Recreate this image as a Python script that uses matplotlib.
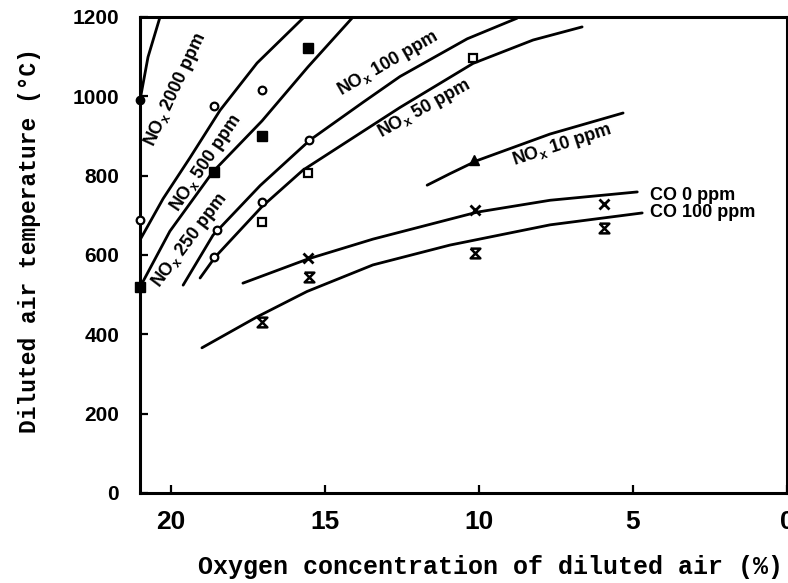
import matplotlib
matplotlib.use("Agg")
import matplotlib.pyplot as plt

plt.rcParams['mathtext.default'] = 'regular'

# curves (oxygen %, temperature degC)
nox2000_x = [21.0, 20.74, 20.35]
nox2000_y = [990, 1099, 1200]
nox500_x = [21.0, 20.25, 19.38, 18.40, 17.20, 15.71]
nox500_y = [638, 742, 845, 965, 1084, 1197]
nox250_x = [21.0, 20.03, 18.63, 17.04, 15.55, 14.12]
nox250_y = [519, 660, 810, 938, 1074, 1197]
nox100_x = [19.60, 18.63, 17.10, 15.48, 13.76, 12.56, 10.38, 8.76]
nox100_y = [524, 650, 775, 890, 985, 1050, 1145, 1197]
nox50_x = [19.05, 18.56, 17.04, 15.71, 12.56, 10.19, 8.24, 6.65]
nox50_y = [542, 595, 722, 814, 972, 1083, 1142, 1175]
nox10_x = [11.68, 10.94, 10.06, 7.69, 5.32]
nox10_y = [776, 805, 838, 905, 958]
co0_x = [17.66, 15.55, 13.44, 10.06, 7.69, 4.86]
co0_y = [529, 590, 640, 708, 738, 759]
co100_x = [18.99, 17.20, 15.58, 13.44, 10.94, 7.69, 4.70]
co100_y = [366, 444, 508, 575, 625, 676, 706]

# measured points
fcirc_x, fcirc_y = [21.0], [990]
ocirc_x = [21.0, 18.6, 17.04, 15.5, 17.04, 18.5, 18.6]
ocirc_y = [688, 975, 1016, 890, 734, 663, 595]
fsq_x = [21.0, 15.55, 17.04, 18.6]
fsq_y = [520, 1122, 900, 810]
osq_x = [10.2, 15.55, 17.04]
osq_y = [1096, 806, 683]
tri_x, tri_y = [10.15], [840]
cross_x = [15.55, 10.12, 5.93]
cross_y = [592, 713, 728]
hour_x = [15.5, 17.04, 10.12, 5.93]
hour_y = [545, 430, 605, 668]

xticks = [20, 15, 10, 5, 0]
yticks = [0, 200, 400, 600, 800, 1000, 1200]

fig = plt.figure(figsize=(7.88, 5.83), dpi=100)
ax = fig.add_axes([140/788, 90/583, 647/788, 476/583])

curves = [(nox2000_x, nox2000_y), (nox500_x, nox500_y), (nox250_x, nox250_y),
          (nox100_x, nox100_y), (nox50_x, nox50_y), (nox10_x, nox10_y),
          (co0_x, co0_y), (co100_x, co100_y)]
for cx, cy in curves:
    ax.plot(cx, cy, color='black', lw=2.0, solid_capstyle='round',
            solid_joinstyle='round')

mk = dict(ls='none', color='black', clip_on=False, zorder=5)
ax.plot(fcirc_x, fcirc_y, marker='o', ms=6, **mk)
ax.plot(ocirc_x, ocirc_y, marker='o', ms=5.5, mfc='white', mew=1.6, **mk)
ax.plot(fsq_x, fsq_y, marker='s', ms=6.5, **mk)
ax.plot(osq_x, osq_y, marker='s', ms=6, mfc='white', mew=1.6, **mk)
ax.plot(tri_x, tri_y, marker='^', ms=7, **mk)
ax.plot(cross_x, cross_y, marker='x', ms=7, mew=2, **mk)
hourglass = [(-1, 1), (1, 1), (-1, -1), (1, -1), (-1, 1)]
ax.plot(hour_x, hour_y, marker=hourglass, ms=7, mfc='none', mew=1.8, **mk)

lab = dict(fontsize=13, fontweight='bold', family=['Liberation Sans', 'DejaVu Sans'],
           ha='center', va='center', rotation_mode='anchor')
ax.text(19.83, 1016, r'NO$_x$ 2000 ppm', rotation=65, **lab)
ax.text(18.86, 832, r'NO$_x$ 500 ppm', rotation=56, **lab)
ax.text(19.38, 638, r'NO$_x$ 250 ppm', rotation=53, **lab)
ax.text(12.95, 1084, r'NO$_x$ 100 ppm', rotation=30, **lab)
ax.text(11.78, 970, r'NO$_x$ 50 ppm', rotation=29, **lab)
ax.text(7.30, 877, r'NO$_x$ 10 ppm', rotation=18, **lab)
lab['ha'] = 'left'
ax.text(4.44, 751, 'CO 0 ppm', **lab)
ax.text(4.44, 708, 'CO 100 ppm', **lab)

ax.set_xlim(21, 0)
ax.set_ylim(0, 1200)
ax.set_xticks(xticks)
ax.set_yticks(yticks)
ax.tick_params(direction='in', length=6, width=1.6)
ax.tick_params(axis='x', pad=12)
ax.tick_params(axis='y', pad=15)
for s in ax.spines.values():
    s.set_linewidth(2.2)

tickfont = ['Liberation Sans', 'DejaVu Sans']
for t in ax.get_xticklabels():
    t.set_family(tickfont)
    t.set_fontweight('bold')
    t.set_fontsize(19)
for t in ax.get_yticklabels():
    t.set_family(tickfont)
    t.set_fontweight('bold')
    t.set_fontsize(15)

monofont = ['Liberation Mono', 'DejaVu Sans Mono']
fig.text(30/788, 1 - 240/583, 'Diluted air temperature (\u00b0C)', rotation=90,
         ha='center', va='center', family=monofont, fontsize=16.5, fontweight='bold')
fig.text(490/788, 1 - 567/583, 'Oxygen concentration of diluted air (%)',
         ha='center', va='center', family=monofont, fontsize=18, fontweight='bold')

fig.savefig('out.png', dpi=100)
